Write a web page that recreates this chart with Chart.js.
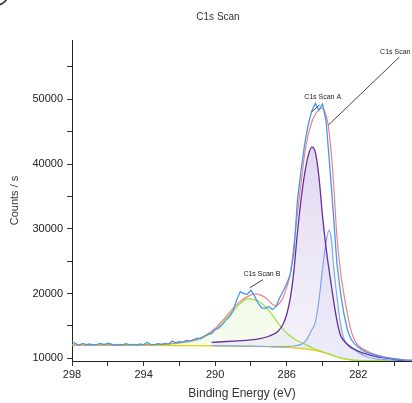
<!DOCTYPE html>
<html>
<head>
<meta charset="utf-8">
<script src="https://cdn.jsdelivr.net/npm/chart.js@4/dist/chart.umd.min.js"></script>
<style>
  html, body { margin: 0; padding: 0; background: #fff; }
  #wrap { width: 412px; height: 403px; position: relative; }
</style>
</head>
<body>
<div id="wrap"><canvas id="c1sChart"></canvas></div>
<script>
// C1s scan: measured counts and the fitted peak components

const chartTitle = "C1s Scan";

// measured spectrum (binding energy, counts / s)
const rawEnergy = [298.0, 297.8, 297.6, 297.4, 297.2, 297.0, 296.8, 296.6, 296.4, 296.2,
  296.0, 295.8, 295.6, 295.4, 295.2, 295.0, 294.8, 294.6, 294.4, 294.2,
  294.0, 293.8, 293.6, 293.4, 293.2, 293.0, 292.8, 292.6, 292.4, 292.2,
  292.0, 291.8, 291.6, 291.4, 291.2, 291.0, 290.8, 290.6, 290.4, 290.2,
  290.0, 289.8, 289.6, 289.4, 289.2, 289.0, 288.8, 288.6, 288.4, 288.2,
  288.0, 287.8, 287.6, 287.4, 287.2, 287.0, 286.8, 286.6, 286.4, 286.2,
  286.0, 285.8, 285.6, 285.4, 285.2, 285.0, 284.8, 284.6, 284.4, 284.2,
  284.0, 283.8, 283.6, 283.4, 283.2, 283.0, 282.8, 282.6, 282.4, 282.2,
  282.0, 281.8, 281.6, 281.4, 281.2, 281.0, 280.8, 280.6, 280.4, 280.2,
  280.0, 279.8, 279.6, 279.4, 279.2, 279.0];
const rawCounts = [12600, 12250, 12050, 12300, 12100, 12200, 12050, 12150, 12300, 12100,
  12350, 12200, 12000, 12150, 12050, 12250, 12100, 12150, 12000, 12200,
  12100, 12450, 12150, 12100, 12250, 12150, 12300, 12200, 12650, 12400,
  12550, 12500, 12750, 12650, 12900, 13100, 13050, 13400, 13700, 13850,
  14400, 14700, 15200, 15900, 16400, 17300, 19000, 20300, 20000, 19900,
  20500, 19600, 18500, 17800, 17700, 18000, 17500, 18000, 19300, 20400,
  21500, 23000, 26300, 34500, 39000, 43000, 46100, 48200, 49400, 48300,
  49300, 46600, 39800, 32500, 24800, 20200, 16800, 14300, 12900, 12200,
  11700, 11300, 11000, 10800, 10600, 10450, 10300, 10150, 10100, 10000,
  9900, 9850, 9800, 9750, 9720, 9700];

// fit envelope
const envEnergy = [298, 296, 294, 293, 292, 291, 290.5, 290, 289.5, 289, 288.5, 288, 287.8,
  287.5, 287.2, 287, 286.8, 286.6, 286.4, 286.2, 286, 285.8, 285.6, 285.4, 285.2, 285,
  284.8, 284.6, 284.4, 284.2, 284.05, 283.9, 283.7, 283.5, 283.35, 283.2, 283, 282.8,
  282.6, 282.4, 282.2, 282, 281.5, 281, 280.5, 280, 279];
const envCounts = [12050, 12060, 12100, 12170, 12400, 12950, 13600, 14600, 16100, 17700, 19000, 19800, 19950,
  19800, 19400, 18900, 18350, 18100, 18500, 19400, 21000, 23000, 27500, 32500, 37000, 41500,
  44500, 46500, 47700, 48400, 48650, 48300, 46300, 41300, 35500, 29000, 23500, 19800,
  16700, 14200, 12800, 12000, 11100, 10550, 10200, 9950, 9630];

// component A
const peakAEnergy = [290.2, 289, 288, 287.5, 287, 286.5, 286.2, 286, 285.8, 285.6, 285.4, 285.2,
  285, 284.8, 284.6, 284.4, 284.2, 284, 283.8, 283.6, 283.4, 283.2, 283, 282.8, 282.6,
  282.4, 282, 281.5, 281, 280, 279];
const peakACounts = [12450, 12650, 12850, 13050, 13400, 14150, 15300, 16800, 19300, 23500, 29500, 34500,
  38500, 41300, 42600, 41800, 38000, 32000, 27000, 23000, 19200, 15900, 13600, 12700, 12100,
  11650, 11100, 10600, 10250, 9850, 9450];

// component C (low binding energy shoulder)
const peakCEnergy = [290.2, 288, 287, 286.5, 286, 285.6, 285.2, 285, 284.8, 284.6, 284.4, 284.2,
  284, 283.8, 283.64, 283.5, 283.4, 283.2, 283, 282.8, 282.6, 282.4, 282, 281.5, 281, 280, 279];
const peakCCounts = [11950, 11880, 11820, 11800, 11820, 11900, 12150, 12500, 13300, 14400, 15600, 19000,
  23800, 28000, 29800, 28300, 24800, 19700, 15400, 13000, 12200, 11800, 10900, 10200, 9900, 9700, 9580];

// component B
const peakBEnergy = [298, 296, 294, 293, 292, 291, 290.5, 290, 289.5, 289, 288.5, 288.15, 287.8,
  287.5, 287, 286.5, 286, 285.5, 285, 284.5, 284, 283.5, 283, 282.5, 282, 281, 280, 279];
const peakBCounts = [12010, 12020, 12060, 12120, 12350, 12850, 13450, 14450, 15900, 17300, 18700, 19200, 19050,
  18700, 17400, 15500, 13900, 12850, 12200, 11500, 11000, 10520, 10070, 9800, 9680, 9600, 9580, 9570];

// background
const bgEnergy = [298, 294, 290, 288, 287, 286, 285.5, 285, 284.5, 284, 283.5, 283, 282.5, 282, 281, 280, 279];
const bgCounts = [12000, 11980, 11920, 11850, 11780, 11680, 11580, 11450, 11250, 10950, 10500, 10050, 9780, 9660, 9600, 9580, 9570];

// axis ticks
const xTicks = [298, 296, 294, 292, 290, 288, 286, 284, 282, 280];
const xTickLabels = ["298", "", "294", "", "290", "", "286", "", "282", ""];
const yTicks = [10000, 15000, 20000, 25000, 30000, 35000, 40000, 45000, 50000, 55000];
const yTickLabels = ["10000", "", "20000", "", "30000", "", "40000", "", "50000", ""];

// callout labels and the points they mark
const calloutText = ["C1s Scan", "C1s Scan A", "C1s Scan B"];
const calloutEnergy = [283.68, 284.61, 288.06];
const calloutCounts = [46000, 48050, 20900];

function pairs(xs, ys) {
  return xs.map((x, i) => ({ x: x, y: ys[i] }));
}

function vGradient(chart, top, bottom) {
  const area = chart.chartArea;
  if (!area) return top;
  const g = chart.ctx.createLinearGradient(0, area.top + 90, 0, area.bottom);
  g.addColorStop(0, top);
  g.addColorStop(1, bottom);
  return g;
}

const calloutOffsets = [
  { lx: 71, ly: -68, tx: 67, ty: -73 },
  { lx: 8, ly: -7, tx: 11, ty: -15 },
  { lx: 13, ly: -8, tx: 12, ty: -14 },
];

const decorPlugin = {
  id: "decor",
  afterDraw(chart) {
    const { ctx, scales } = chart;
    ctx.save();
    // chart title
    ctx.font = "10px 'Liberation Sans', Arial, sans-serif";
    ctx.fillStyle = "#333";
    ctx.textAlign = "center";
    ctx.textBaseline = "middle";
    ctx.fillText(chartTitle, 218, 17);

    // callouts
    ctx.font = "7px 'Liberation Sans', Arial, sans-serif";
    calloutText.forEach((text, i) => {
      const px = scales.x.getPixelForValue(calloutEnergy[i]);
      const py = scales.y.getPixelForValue(calloutCounts[i]);
      const o = calloutOffsets[i];
      ctx.strokeStyle = "#444";
      ctx.lineWidth = 1;
      ctx.beginPath();
      ctx.moveTo(px, py);
      ctx.lineTo(px + o.lx, py + o.ly);
      ctx.stroke();
      ctx.fillStyle = "#222";
      ctx.fillText(text, px + o.tx, py + o.ty);
    });

    // stray ring in the corner of the screenshot
    ctx.strokeStyle = "#222";
    ctx.lineWidth = 1.5;
    ctx.beginPath();
    ctx.arc(-6, -10, 15.8, 0, Math.PI * 2);
    ctx.stroke();
    ctx.restore();
  },
};

Chart.defaults.font.family = "'Liberation Sans', Arial, sans-serif";
Chart.defaults.color = "#222";

new Chart(document.getElementById("c1sChart"), {
  type: "line",
  data: {
    datasets: [
      {
        label: "C1s Scan",
        data: pairs(rawEnergy, rawCounts),
        borderColor: "#4499ee",
        borderWidth: 1.3,
        pointRadius: 0,
        tension: 0,
        fill: false,
      },
      {
        label: "Envelope",
        data: pairs(envEnergy, envCounts),
        borderColor: "#f48080",
        borderWidth: 1.2,
        pointRadius: 0,
        cubicInterpolationMode: "monotone",
        fill: false,
      },
      {
        label: "C1s Scan A",
        data: pairs(peakAEnergy, peakACounts),
        borderColor: "#6a2c9c",
        borderWidth: 1.3,
        pointRadius: 0,
        cubicInterpolationMode: "monotone",
        fill: 5,
        backgroundColor: (c) => vGradient(c.chart, "rgba(196, 178, 226, 0.55)", "rgba(226, 220, 244, 0.35)"),
      },
      {
        label: "C1s Scan C",
        data: pairs(peakCEnergy, peakCCounts),
        borderColor: "#7fa6f0",
        borderWidth: 1.2,
        pointRadius: 0,
        cubicInterpolationMode: "monotone",
        fill: 5,
        backgroundColor: "rgba(205, 212, 245, 0.25)",
      },
      {
        label: "C1s Scan B",
        data: pairs(peakBEnergy, peakBCounts),
        borderColor: "#9ee03c",
        borderWidth: 1.2,
        pointRadius: 0,
        cubicInterpolationMode: "monotone",
        fill: 5,
        backgroundColor: (c) => vGradient(c.chart, "rgba(214, 244, 180, 0.75)", "rgba(238, 250, 228, 0.5)"),
      },
      {
        label: "Background",
        data: pairs(bgEnergy, bgCounts),
        borderColor: "#e2d000",
        borderWidth: 1.2,
        pointRadius: 0,
        cubicInterpolationMode: "monotone",
        fill: false,
      },
    ],
  },
  options: {
    responsive: true,
    maintainAspectRatio: false,
    animation: false,
    layout: { padding: { top: 40, left: 0, right: 0, bottom: 0 } },
    plugins: {
      legend: { display: false },
      tooltip: { enabled: false },
      filler: { drawTime: "beforeDatasetsDraw" },
    },
    scales: {
      x: {
        type: "linear",
        reverse: true,
        min: 279,
        max: 298,
        afterBuildTicks: (s) => { s.ticks = xTicks.map((v) => ({ value: v })); },
        afterFit: (s) => { s.height = 42; },
        ticks: {
          autoSkip: false,
          maxRotation: 0,
          padding: 2,
          font: { size: 11 },
          color: "#222",
          callback: (v, i) => xTickLabels[i],
        },
        grid: { drawOnChartArea: false, drawTicks: true, tickLength: 5, color: "#333" },
        border: { display: true, color: "#222", width: 1 },
        title: {
          display: true,
          text: "Binding Energy (eV)",
          font: { size: 12 },
          color: "#333",
          padding: { top: 0, bottom: 2 },
        },
      },
      y: {
        type: "linear",
        min: 9580,
        max: 59160,
        afterBuildTicks: (s) => { s.ticks = yTicks.map((v) => ({ value: v })); },
        afterFit: (s) => { s.width = 72; },
        ticks: {
          autoSkip: false,
          padding: 4,
          font: { size: 11 },
          color: "#222",
          callback: (v, i) => yTickLabels[i],
        },
        grid: { drawOnChartArea: false, drawTicks: true, tickLength: 5, color: "#333" },
        border: { display: true, color: "#222", width: 1 },
        title: {
          display: true,
          text: "Counts / s",
          font: { size: 11 },
          color: "#333",
          padding: { top: 8, bottom: 0 },
        },
      },
    },
  },
  plugins: [decorPlugin],
});
</script>
</body>
</html>
